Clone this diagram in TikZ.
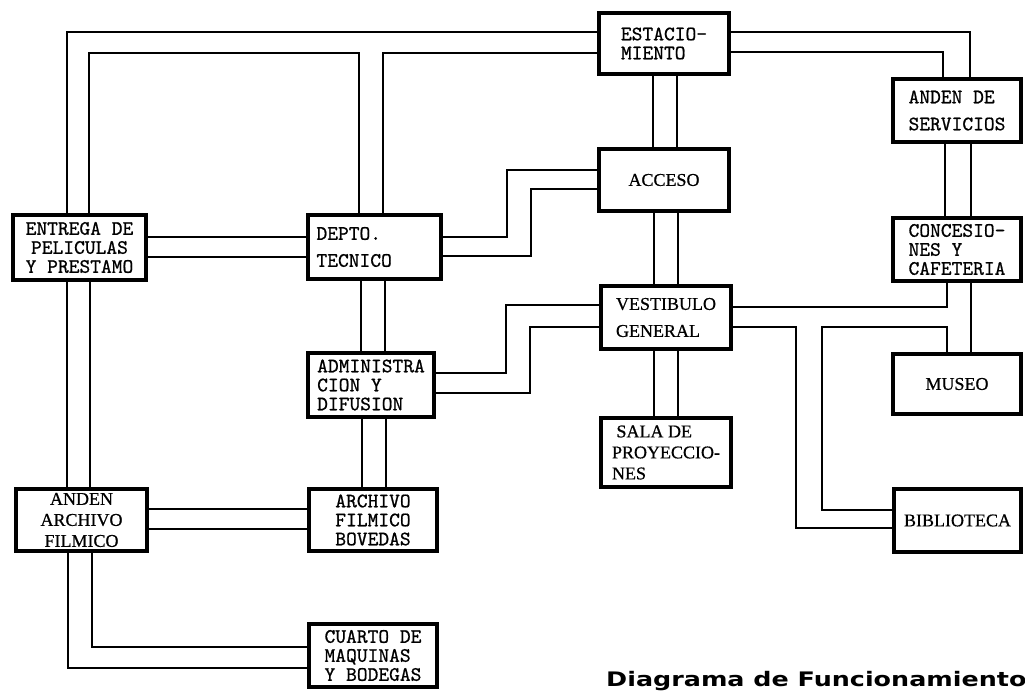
\documentclass[tikz,border=0pt]{standalone}
\usepackage{graphicx}
\usepackage{fontspec}
\newfontfamily\typewr{lmmono10-regular.otf}[FakeBold=0.8]
\newfontfamily\typeroman{Liberation Serif}[FakeBold=0.6]
\newfontfamily\titlefont{DejaVu Sans}

\tikzset{
  room/.style={draw, line width=3.2pt, inner sep=1pt, align=left,
    font=\typewr\fontsize{20.5}{19}\selectfont},
  roomserif/.style={room, align=center, font=\typeroman\fontsize{18}{21}\selectfont},
  corr/.style={line width=1.5pt}
}

\begin{document}
\begin{tikzpicture}[x=1pt, y=-1pt]
    \useasboundingbox (0,0) rectangle (1025,693);

    % rooms
    \node[room, minimum width=130pt, minimum height=61pt] (estacio) at (664,43.5) {ESTACIO-\\MIENTO};
    \node[roomserif, minimum width=130pt, minimum height=62pt] (acceso) at (664,180) {ACCESO};
    \node[roomserif, minimum width=130pt, minimum height=63pt, align=left] (vestib) at (666,317.5) {VESTIBULO\\[6pt]GENERAL};
    \node[roomserif, minimum width=130pt, minimum height=69pt, align=left] (sala) at (666,452.5) {\ SALA DE\\PROYECCIO-\\NES};
    \node[room, minimum width=128pt, minimum height=63pt] (andserv) at (957,110.5) {ANDEN DE\\[8pt]SERVICIOS};
    \node[room, minimum width=128pt, minimum height=63pt] (conces) at (957,249.5) {CONCESIO-\\NES Y\\CAFETERIA};
    \node[roomserif, minimum width=128pt, minimum height=60pt] (museo) at (957,384) {MUSEO};
    \node[roomserif, minimum width=127pt, minimum height=63pt] (biblio) at (957.5,520.5) {BIBLIOTECA};
    \node[room, minimum width=133pt, minimum height=65pt, align=center] (entrega) at (79.5,247.5) {ENTREGA DE\\PELICULAS\\Y PRESTAMO};
    \node[room, minimum width=133pt, minimum height=64pt, text width=116pt] (depto) at (374.5,247) {DEPTO.\\[8pt]TECNICO};
    \node[room, minimum width=126pt, minimum height=64pt] (admin) at (371,385) {ADMINISTRA\\CION Y\\DIFUSION};
    \node[roomserif, minimum width=131pt, minimum height=62pt] (andarch) at (81.5,520) {ANDEN\\ARCHIVO\\FILMICO};
    \node[room, minimum width=128pt, minimum height=62pt, align=center] (bovedas) at (373,520) {ARCHIVO\\FILMICO\\BOVEDAS};
    \node[room, minimum width=128pt, minimum height=63pt] (cuarto) at (373,655.5) {CUARTO DE\\MAQUINAS\\Y BODEGAS};

    % upper corridors
    \draw[corr] (entrega.north -| 67,0) |- (estacio.west |- 0,32);
    \draw[corr] (entrega.north -| 89,0) |- (359,53) -- (depto.north -| 359,0);
    \draw[corr] (depto.north -| 383,0) |- (estacio.west |- 0,53);
    \draw[corr] (estacio.east |- 0,32) -| (andserv.north -| 970,0);
    \draw[corr] (estacio.east |- 0,52) -| (andserv.north -| 943,0);

    % central spine
    \draw[corr] (estacio.south -| 653,0) -- (acceso.north -| 653,0);
    \draw[corr] (estacio.south -| 677,0) -- (acceso.north -| 677,0);
    \draw[corr] (acceso.south -| 654,0) -- (vestib.north -| 654,0);
    \draw[corr] (acceso.south -| 678,0) -- (vestib.north -| 678,0);
    \draw[corr] (vestib.south -| 654,0) -- (sala.north -| 654,0);
    \draw[corr] (vestib.south -| 678,0) -- (sala.north -| 678,0);

    % right side
    \draw[corr] (andserv.south -| 945,0) -- (conces.north -| 945,0);
    \draw[corr] (andserv.south -| 971,0) -- (conces.north -| 971,0);
    \draw[corr] (conces.south -| 971,0) -- (museo.north -| 971,0);
    \draw[corr] (vestib.east |- 0,307) -| (conces.south -| 947,0);
    \draw[corr] (vestib.east |- 0,327) -| (796,528) -- (biblio.west |- 0,528);
    \draw[corr] (biblio.west |- 0,510) -| (822,327) -| (museo.north -| 947,0);

    % left side
    \draw[corr] (entrega.east |- 0,237) -- (depto.west |- 0,237);
    \draw[corr] (entrega.east |- 0,257) -- (depto.west |- 0,257);
    \draw[corr] (depto.east |- 0,237) -| (507,170) -- (acceso.west |- 0,170);
    \draw[corr] (depto.east |- 0,256) -| (531,189) -- (acceso.west |- 0,189);
    \draw[corr] (admin.east |- 0,373) -| (506,305) -- (vestib.west |- 0,305);
    \draw[corr] (admin.east |- 0,393) -| (530,327) -- (vestib.west |- 0,327);
    \draw[corr] (depto.south -| 361,0) -- (admin.north -| 361,0);
    \draw[corr] (depto.south -| 385,0) -- (admin.north -| 385,0);
    \draw[corr] (entrega.south -| 67,0) -- (andarch.north -| 67,0);
    \draw[corr] (entrega.south -| 90,0) -- (andarch.north -| 90,0);
    \draw[corr] (admin.south -| 362,0) -- (bovedas.north -| 362,0);
    \draw[corr] (admin.south -| 386,0) -- (bovedas.north -| 386,0);
    \draw[corr] (andarch.east |- 0,509) -- (bovedas.west |- 0,509);
    \draw[corr] (andarch.east |- 0,529) -- (bovedas.west |- 0,529);
    \draw[corr] (andarch.south -| 68,0) |- (cuarto.west |- 0,668);
    \draw[corr] (andarch.south -| 92,0) |- (cuarto.west |- 0,647);

    \node[anchor=base west, inner sep=0pt, font=\titlefont\bfseries\fontsize{20}{20}\selectfont] (titulo) at (606,686) {\scalebox{1.27}[1]{Diagrama de Funcionamiento}};
\end{tikzpicture}
\end{document}
